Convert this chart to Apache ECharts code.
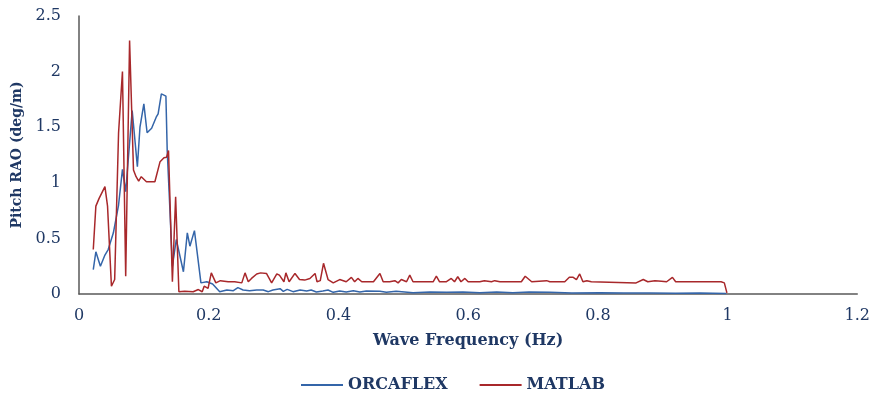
<!DOCTYPE html>
<html>
<head>
<meta charset="utf-8">
<script src="https://cdn.jsdelivr.net/npm/echarts@6/dist/echarts.min.js"></script>
<style>
    html, body { margin: 0; padding: 0; background: #fff; }
    #chart { width: 873px; height: 398px; }
</style>
</head>
<body>
<div id="chart"></div>
<script>
// ORCAFLEX curve (Hz, deg/m)
var freqOrca = [0.022, 0.026, 0.033, 0.040, 0.045, 0.053, 0.061, 0.067, 0.072, 0.082, 0.090, 0.094, 0.100, 0.105,
    0.112, 0.119, 0.122, 0.127, 0.134, 0.136, 0.139, 0.144, 0.150, 0.161, 0.167, 0.171, 0.178, 0.188, 0.197, 0.206,
    0.217, 0.228, 0.238, 0.245, 0.253, 0.263, 0.274, 0.284, 0.292, 0.299, 0.310, 0.315, 0.321, 0.330, 0.341, 0.351,
    0.358, 0.366, 0.376, 0.384, 0.392, 0.402, 0.412, 0.423, 0.433, 0.443, 0.464, 0.474, 0.489, 0.515, 0.541, 0.567,
    0.592, 0.618, 0.644, 0.669, 0.694, 0.726, 0.760, 0.803, 0.840, 0.880, 0.920, 0.957, 0.998];
var pitchOrca = [0.22, 0.38, 0.25, 0.35, 0.40, 0.55, 0.80, 1.12, 0.92, 1.65, 1.145, 1.50, 1.71, 1.45,
    1.49, 1.59, 1.62, 1.80, 1.78, 1.29, 0.91, 0.25, 0.49, 0.20, 0.55, 0.43, 0.57, 0.10, 0.11, 0.09,
    0.02, 0.036, 0.03, 0.057, 0.036, 0.03, 0.036, 0.036, 0.021, 0.036, 0.048, 0.024, 0.042, 0.021, 0.036, 0.027,
    0.036, 0.018, 0.027, 0.036, 0.015, 0.027, 0.018, 0.03, 0.018, 0.027, 0.024, 0.015, 0.024, 0.012, 0.018, 0.015,
    0.018, 0.012, 0.018, 0.012, 0.018, 0.015, 0.01, 0.012, 0.008, 0.01, 0.006, 0.008, 0.005];

// MATLAB curve (Hz, deg/m)
var freqMatlab = [0.022, 0.026, 0.031, 0.040, 0.044, 0.050, 0.055, 0.061, 0.067, 0.072, 0.078, 0.084, 0.088, 0.092,
    0.096, 0.104, 0.117, 0.125, 0.131, 0.135, 0.138, 0.144, 0.149, 0.154, 0.163, 0.176, 0.184, 0.190, 0.193, 0.199,
    0.204, 0.211, 0.218, 0.230, 0.240, 0.251, 0.256, 0.261, 0.266, 0.274, 0.280, 0.289, 0.297, 0.305, 0.309, 0.312,
    0.316, 0.319, 0.324, 0.333, 0.340, 0.348, 0.356, 0.364, 0.367, 0.372, 0.377, 0.384, 0.392, 0.402, 0.412, 0.420,
    0.425, 0.430, 0.436, 0.444, 0.454, 0.464, 0.469, 0.479, 0.487, 0.492, 0.497, 0.505, 0.510, 0.515, 0.525, 0.536,
    0.546, 0.551, 0.556, 0.566, 0.574, 0.579, 0.584, 0.589, 0.595, 0.600, 0.608, 0.618, 0.625, 0.636, 0.641, 0.649,
    0.669, 0.682, 0.688, 0.698, 0.721, 0.726, 0.749, 0.756, 0.762, 0.767, 0.772, 0.777, 0.783, 0.790, 0.859, 0.870,
    0.877, 0.888, 0.898, 0.906, 0.915, 0.920, 0.990, 0.995, 0.999];
var pitchMatlab = [0.40, 0.79, 0.86, 0.965, 0.79, 0.07, 0.13, 1.45, 2.0, 0.16, 2.28, 1.115, 1.055, 1.015,
    1.055, 1.01, 1.01, 1.19, 1.225, 1.23, 1.29, 0.11, 0.875, 0.02, 0.025, 0.02, 0.04, 0.02, 0.07, 0.05,
    0.19, 0.10, 0.12, 0.11, 0.11, 0.10, 0.19, 0.11, 0.14, 0.18, 0.19, 0.185, 0.10, 0.18, 0.17, 0.185,
    0.11, 0.19, 0.11, 0.185, 0.13, 0.125, 0.14, 0.185, 0.11, 0.12, 0.276, 0.13, 0.10, 0.13, 0.11, 0.15,
    0.11, 0.14, 0.11, 0.11, 0.11, 0.185, 0.11, 0.11, 0.12, 0.10, 0.13, 0.11, 0.17, 0.11, 0.11, 0.11,
    0.11, 0.16, 0.11, 0.11, 0.14, 0.11, 0.155, 0.11, 0.14, 0.11, 0.11, 0.11, 0.12, 0.11, 0.12, 0.11,
    0.11, 0.11, 0.16, 0.11, 0.12, 0.11, 0.11, 0.15, 0.15, 0.13, 0.18, 0.11, 0.12, 0.11, 0.10, 0.13,
    0.11, 0.12, 0.115, 0.11, 0.15, 0.11, 0.11, 0.10, 0.01];

var xTicks = { min: 0, max: 1.2, interval: 0.2 };
var yTicks = { min: 0, max: 2.5, interval: 0.5 };

function pairs(xs, ys) {
    return xs.map(function (x, i) { return [x, ys[i]]; });
}

var navy = '#1f3864';
var font = 'DejaVu Serif';

var myChart = echarts.init(document.getElementById('chart'));
myChart.setOption({
    animation: false,
    grid: { left: 79, right: 15, top: 16, bottom: 104 },
    legend: {
        bottom: 0,
        left: 296,
        icon: 'rect',
        itemWidth: 42,
        itemHeight: 2,
        itemGap: 32,
        textStyle: { color: navy, fontFamily: font, fontWeight: 'bold', fontSize: 16 },
        data: ['ORCAFLEX', 'MATLAB']
    },
    xAxis: {
        type: 'value',
        min: xTicks.min, max: xTicks.max, interval: xTicks.interval,
        name: 'Wave Frequency (Hz)',
        nameLocation: 'middle',
        nameGap: 39,
        nameTextStyle: { color: navy, fontFamily: font, fontWeight: 'bold', fontSize: 16 },
        axisLine: { lineStyle: { color: '#595959', width: 1.5 } },
        axisTick: { show: false },
        splitLine: { show: false },
        axisLabel: { color: navy, fontFamily: font, fontSize: 16, margin: 14 }
    },
    yAxis: {
        type: 'value',
        min: yTicks.min, max: yTicks.max, interval: yTicks.interval,
        name: 'Pitch RAO (deg/m)',
        nameLocation: 'middle',
        nameGap: 49,
        nameTextStyle: { color: navy, fontFamily: font, fontWeight: 'bold', fontSize: 14 },
        axisLine: { show: true, lineStyle: { color: '#595959', width: 1.5 } },
        axisTick: { show: false },
        splitLine: { show: false },
        axisLabel: { color: navy, fontFamily: font, fontSize: 16, margin: 18 }
    },
    series: [
        {
            name: 'ORCAFLEX',
            type: 'line',
            symbol: 'none',
            color: '#3465a9',
            lineStyle: { width: 1.5 },
            data: pairs(freqOrca, pitchOrca)
        },
        {
            name: 'MATLAB',
            type: 'line',
            symbol: 'none',
            color: '#a8282b',
            lineStyle: { width: 1.5 },
            data: pairs(freqMatlab, pitchMatlab)
        }
    ]
});
</script>
</body>
</html>
